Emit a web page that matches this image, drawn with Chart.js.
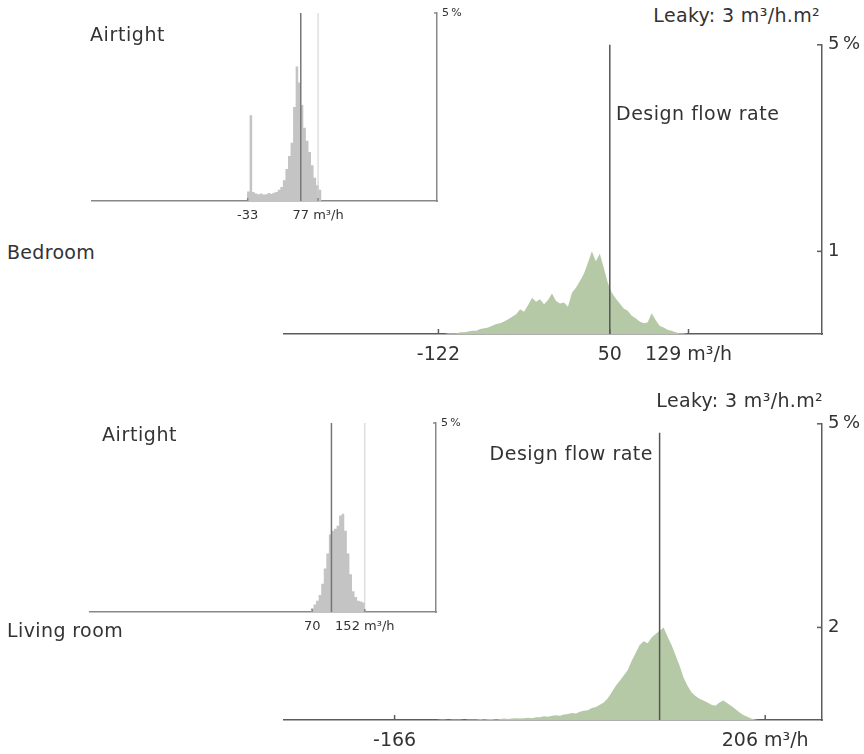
<!DOCTYPE html>
<html lang="en">
<head>
    <meta charset="UTF-8">
    <title>Bedroom / Living room flow rates</title>
    <script src="https://cdn.jsdelivr.net/npm/chart.js"></script>
    <style>
        body {
            margin: 0;
            background: #fff;
            font-family: 'DejaVu Sans', sans-serif;
            color: #333;
        }
        #page {
            position: relative;
            width: 864px;
            height: 754px;
            overflow: hidden;
        }
        .box { position: absolute; }
        .lbl {
            position: absolute;
            font-size: 19px;
            line-height: 19px;
            white-space: nowrap;
            z-index: 2;
        }
    </style>
</head>
<body>
<div id="page">
    <!-- big (leaky) charts first, insets on top -->
    <div class="box" style="left:283px;top:28px;width:579px;height:340px"><canvas id="bedLeaky"></canvas></div>
    <div class="box" style="left:283px;top:407px;width:579px;height:347px"><canvas id="livLeaky"></canvas></div>
    <div class="box" style="left:91px;top:0px;width:376px;height:225px"><canvas id="bedAir"></canvas></div>
    <div class="box" style="left:89px;top:410px;width:377px;height:226px"><canvas id="livAir"></canvas></div>

    <div class="lbl" style="left:90px;top:25px;letter-spacing:0.6px">Airtight</div>
    <div class="lbl" style="right:44px;top:6px;letter-spacing:0.35px">Leaky: 3 m³/h.m²</div>
    <div class="lbl" style="left:616px;top:104px;letter-spacing:0.5px">Design flow rate</div>
    <div class="lbl" style="left:7px;top:243px;letter-spacing:0.3px">Bedroom</div>

    <div class="lbl" style="left:102px;top:425px;letter-spacing:0.6px">Airtight</div>
    <div class="lbl" style="right:41px;top:391px;letter-spacing:0.35px">Leaky: 3 m³/h.m²</div>
    <div class="lbl" style="right:211px;top:444px;letter-spacing:0.5px">Design flow rate</div>
    <div class="lbl" style="left:7px;top:621px;letter-spacing:0.4px">Living room</div>
</div>

<script>
    // shared x range (m³/h) and bin width of the histograms
    const xMin = -278;
    const xMax = 263;
    const binWidth = 4;

    // Bedroom - leaky envelope, % of time per bin, first bin centre
    const bedLeakyStart = -116;
    const bedLeakyPct = [
        0, 0.01, 0.01, 0.01, 0.02, 0.02, 0.03, 0.04, 0.04, 0.06,
        0.07, 0.08, 0.10, 0.12, 0.13, 0.15, 0.18, 0.21, 0.24, 0.30,
        0.27, 0.35, 0.44, 0.39, 0.42, 0.36, 0.41, 0.49, 0.40, 0.37,
        0.38, 0.33, 0.50, 0.56, 0.64, 0.73, 0.86, 1.00, 0.88, 0.97,
        0.80, 0.62, 0.50, 0.43, 0.37, 0.31, 0.28, 0.22, 0.19, 0.15,
        0.13, 0.14, 0.25, 0.17, 0.10, 0.08, 0.05, 0.04, 0.02, 0.01,
        0.01, 0
    ];
    // Bedroom - airtight envelope
    const bedAirStart = -36;
    const bedAirPct = [
        0, 0.25, 2.28, 0.24, 0.20, 0.18, 0.20, 0.17, 0.18, 0.21,
        0.19, 0.22, 0.24, 0.30, 0.37, 0.55, 0.85, 1.20, 1.55, 2.50,
        3.58, 3.15, 2.55, 1.95, 1.60, 1.30, 0.95, 0.62, 0.42, 0.30,
        0
    ];
    // Living room - leaky envelope
    const livLeakyStart = -124;
    const livLeakyPct = [
        0, 0.01, 0.01, 0.00, 0.01, 0.01, 0.01, 0.00, 0.01, 0.01,
        0.01, 0.02, 0.01, 0.02, 0.02, 0.01, 0.02, 0.03, 0.02, 0.03,
        0.04, 0.03, 0.04, 0.05, 0.04, 0.06, 0.06, 0.08, 0.07, 0.09,
        0.10, 0.09, 0.12, 0.13, 0.15, 0.14, 0.18, 0.20, 0.21, 0.26,
        0.28, 0.33, 0.38, 0.47, 0.60, 0.74, 0.85, 0.96, 1.08, 1.28,
        1.45, 1.62, 1.70, 1.66, 1.78, 1.86, 1.93, 2.00, 1.80, 1.62,
        1.40, 1.18, 0.92, 0.74, 0.60, 0.52, 0.46, 0.42, 0.38, 0.33,
        0.31, 0.38, 0.42, 0.36, 0.30, 0.24, 0.17, 0.11, 0.07, 0.03,
        0.01, 0
    ];
    // Living room - airtight envelope
    const livAirStart = 66;
    const livAirPct = [
        0, 0.10, 0.20, 0.30, 0.45, 0.75, 1.15, 1.55, 2.05, 2.15,
        2.20, 2.28, 2.55, 2.60, 2.15, 1.55, 1.00, 0.55, 0.40, 0.30,
        0.28, 0.25, 0
    ];

    // design flow rates and max airtight flow (vertical lines)
    const bedDesign = 50;
    const livDesign = 100;
    const bedAirMaxFlow = 77;
    const livAirMaxFlow = 152;

    // axis ticks
    const bedLeakyXTicks = [-122, 50, 129];
    const bedLeakyXLabels = ['-122', '50', '129 m³/h'];
    const bedAirXTicks = [-33, 77];
    const bedAirXLabels = ['-33', '77 m³/h'];
    const livLeakyXTicks = [-166, 206];
    const livLeakyXLabels = ['-166', '206 m³/h'];
    const livAirXTicks = [70, 152];
    const livAirXLabels = ['70', '152 m³/h'];

    const bedLeakyYTicks = [1, 3.5];
    const bedLeakyYLabels = ['1', '5\u2009%'];
    const livLeakyYTicks = [2, 6.4];
    const livLeakyYLabels = ['2', '5\u2009%'];
    const airYTicks = [5];
    const airYLabels = ['5\u2009%'];

    Chart.defaults.font.family = "'DejaVu Sans', sans-serif";
    Chart.defaults.color = '#333';

    // vertical marker lines + small inward tick marks
    const markers = {
        id: 'markers',
        afterDatasetsDraw(chart, args, opts) {
            const { ctx, chartArea, scales: { x, y } } = chart;
            ctx.save();
            (opts.lines || []).forEach(l => {
                const px = x.getPixelForValue(l.value);
                ctx.strokeStyle = l.color;
                ctx.lineWidth = l.width;
                ctx.beginPath();
                ctx.moveTo(px, chartArea.top + (l.offset || 0));
                ctx.lineTo(px, chartArea.bottom);
                ctx.stroke();
            });
            ctx.strokeStyle = opts.tickColor;
            ctx.lineWidth = opts.tickWidth;
            x.ticks.forEach(t => {
                const px = x.getPixelForValue(t.value);
                ctx.beginPath();
                ctx.moveTo(px, chartArea.bottom);
                ctx.lineTo(px, chartArea.bottom - opts.tickLen);
                ctx.stroke();
            });
            y.ticks.forEach(t => {
                const py = y.getPixelForValue(t.value);
                ctx.beginPath();
                ctx.moveTo(chartArea.right, py);
                ctx.lineTo(chartArea.right - opts.tickLen, py);
                ctx.stroke();
            });
            ctx.restore();
        }
    };

    function bins(start, vals) {
        return vals.map((v, i) => ({ x: start + i * binWidth, y: v }));
    }

    function histogram(id, cfg) {
        new Chart(document.getElementById(id), {
            type: 'line',
            data: {
                datasets: [{
                    data: bins(cfg.start, cfg.pct),
                    stepped: cfg.stepped,
                    tension: 0,
                    fill: 'origin',
                    backgroundColor: cfg.fill,
                    borderWidth: 0,
                    pointRadius: 0
                }]
            },
            options: {
                responsive: true,
                maintainAspectRatio: false,
                animation: false,
                events: [],
                layout: { padding: { top: cfg.padTop, left: 0, right: 0, bottom: 0 } },
                scales: {
                    x: {
                        type: 'linear',
                        min: xMin,
                        max: xMax,
                        grid: { display: true, drawOnChartArea: false, drawTicks: false },
                        border: { display: true, color: cfg.axisColor, width: 1.5 },
                        afterBuildTicks: s => { s.ticks = cfg.xTicks.map(v => ({ value: v })); },
                        afterFit: s => { s.height = cfg.xH; },
                        ticks: {
                            autoSkip: false,
                            maxRotation: 0,
                            minRotation: 0,
                            padding: cfg.xPad,
                            color: '#333',
                            font: { size: cfg.font },
                            callback: (v, i) => cfg.xLabels[i]
                        }
                    },
                    y: {
                        type: 'linear',
                        position: 'right',
                        min: 0,
                        max: cfg.yMax,
                        grid: { display: true, drawOnChartArea: false, drawTicks: false },
                        border: { display: true, color: cfg.axisColor, width: 1.5 },
                        afterBuildTicks: s => { s.ticks = cfg.yTicks.map(v => ({ value: v })); },
                        afterFit: s => { s.width = cfg.yW; },
                        ticks: {
                            autoSkip: false,
                            padding: cfg.yPad,
                            color: '#333',
                            font: { size: cfg.yFont },
                            callback: (v, i) => cfg.yLabels[i]
                        }
                    }
                },
                plugins: {
                    legend: { display: false },
                    tooltip: { enabled: false },
                    markers: {
                        lines: cfg.lines,
                        tickColor: cfg.axisColor,
                        tickWidth: 1.5,
                        tickLen: cfg.tickLen
                    }
                }
            },
            plugins: [markers]
        });
    }

    const green = '#b6c9a7';
    const grey = '#c4c4c4';

    histogram('bedLeaky', {
        start: bedLeakyStart, pct: bedLeakyPct, fill: green, stepped: false,
        xTicks: bedLeakyXTicks, xLabels: bedLeakyXLabels,
        yTicks: bedLeakyYTicks, yLabels: bedLeakyYLabels, yMax: 3.5,
        padTop: 14, xH: 34, yW: 40, xPad: 10, yPad: 6, font: 19, yFont: 18,
        axisColor: '#5c5c5c', tickLen: 5,
        lines: [{ value: bedDesign, color: '#555', width: 1.5 }]
    });

    histogram('livLeaky', {
        start: livLeakyStart, pct: livLeakyPct, fill: green, stepped: false,
        xTicks: livLeakyXTicks, xLabels: livLeakyXLabels,
        yTicks: livLeakyYTicks, yLabels: livLeakyYLabels, yMax: 6.4,
        padTop: 14, xH: 34, yW: 40, xPad: 10, yPad: 6, font: 19, yFont: 18,
        axisColor: '#5c5c5c', tickLen: 5,
        lines: [{ value: livDesign, color: '#555', width: 1.5, offset: 9 }]
    });

    histogram('bedAir', {
        start: bedAirStart, pct: bedAirPct, fill: grey, stepped: 'middle',
        xTicks: bedAirXTicks, xLabels: bedAirXLabels,
        yTicks: airYTicks, yLabels: airYLabels, yMax: 5,
        padTop: 13, xH: 24, yW: 30, xPad: 7, yPad: 5, font: 13, yFont: 11,
        axisColor: '#888', tickLen: 3,
        lines: [
            { value: bedAirMaxFlow, color: '#cfcfcf', width: 1 },
            { value: bedDesign, color: '#777', width: 1.5 }
        ]
    });

    histogram('livAir', {
        start: livAirStart, pct: livAirPct, fill: grey, stepped: 'middle',
        xTicks: livAirXTicks, xLabels: livAirXLabels,
        yTicks: airYTicks, yLabels: airYLabels, yMax: 5,
        padTop: 13, xH: 24, yW: 30, xPad: 7, yPad: 5, font: 13, yFont: 11,
        axisColor: '#888', tickLen: 3,
        lines: [
            { value: livAirMaxFlow, color: '#cfcfcf', width: 1 },
            { value: livDesign, color: '#777', width: 1.5 }
        ]
    });
</script>
</body>
</html>
